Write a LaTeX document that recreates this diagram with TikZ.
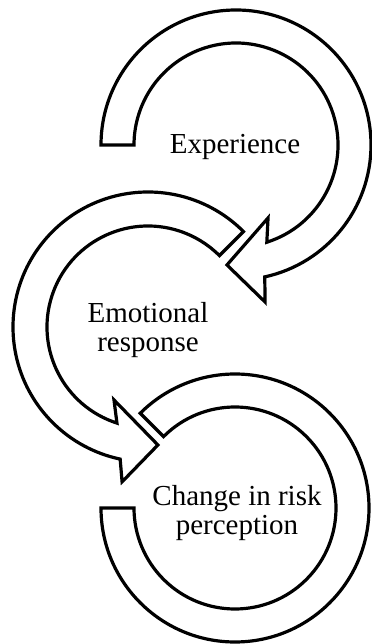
\documentclass[tikz,border=0pt]{standalone}
\usepackage{fontspec}
\setmainfont{Liberation Serif}
\usepackage{tikz}
\usetikzlibrary{positioning}

\begin{document}
\begin{tikzpicture}[x=0.5pt, y=0.5pt,
    ring/.style={draw=black, line width=1.6pt, fill=white, line join=miter},
    lbl/.style={font=\fontsize{14.5}{14.8}\selectfont, align=center, inner sep=0pt}]
  \useasboundingbox (0,0) rectangle (371,644);
  % rings are drawn around their own centre; angles in degrees, radii in px
  \begin{scope}[shift={(236,499)}]
    \draw[ring] (180:135) arc[start angle=180, end angle=-77.7, radius=135]
      -- (-79.5:159.7) -- (-94.3:120.3) -- (-66.3:79.7)
      -- (-72.4:102) arc[start angle=-72.4, end angle=180, radius=102] -- cycle;
  \end{scope}
  \begin{scope}[shift={(148,317)}]
    \draw[ring] (45:135) arc[start angle=45, end angle=258.1, radius=135]
      -- (-99.5:157) -- (-85.2:118.4) -- (-115:80.5)
      -- (-107.9:101) arc[start angle=252.1, end angle=45, radius=101] -- cycle;
  \end{scope}
  % last ring has no head, only a gap
  \begin{scope}[shift={(235,136)}]
    \draw[ring] (180:134) arc[start angle=180, end angle=495, radius=134]
      -- (135:101) arc[start angle=135, end angle=-180, radius=101] -- cycle;
  \end{scope}
  \node[lbl] (exper) at (235,497) {Experience};
  \node[lbl] (emot) at (148,314) {Emotional\\response};
  \node[lbl] (change) at (237,131) {Change in risk\\perception};
\end{tikzpicture}
\end{document}
